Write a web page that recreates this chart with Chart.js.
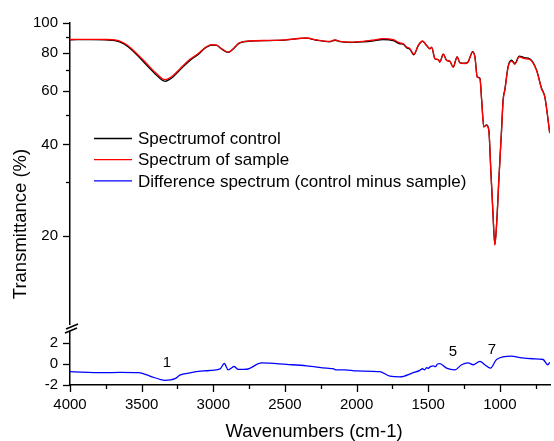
<!DOCTYPE html>
<html>
<head>
<meta charset="utf-8">
<script src="https://cdn.jsdelivr.net/npm/chart.js@4/dist/chart.umd.min.js"></script>
<style>
html,body{margin:0;padding:0;background:#fff;}
#wrap{width:554px;height:441px;position:relative;}
</style>
</head>
<body>
<div id="wrap"><canvas id="c"></canvas></div>
<script>
// ---- DATA ----
const wavenumbers = [4000,3850,3750,3686,3623,3570,3454,3400,3337,3295,3279,3221,3163,3105,3058,3011,2976,2942,2896,2865,2826,2814,2744,2605,2500,2349,2279,2186,2151,2116,2046,1954,1893,1814,1744,1698,1675,1651,1628,1600,1570,1539,1511,1488,1476,1453,1430,1419,1395,1372,1349,1326,1298,1279,1244,1221,1190,1174,1158,1139,1127,1112,1093,1077,1063,1049,1035,1021,1007,988,977,965,942,918,895,865,826,791,744,709,686,652];
const sampleT = [88.3,88.4,88.3,88.1,86.0,82.4,72.7,68.5,65.2,66.5,67.4,71.7,76.0,79.4,83.0,84.9,84.6,82.4,80.3,82.0,85.6,86.3,87.3,87.7,88.0,89.3,88.0,87.1,88.0,87.1,86.6,87.1,87.8,88.9,88.2,86.0,85.6,83.4,82.4,79.0,84.5,87.3,84.5,82.4,83.4,76.4,75.9,74.5,79.0,75.5,74.9,71.7,77.4,74.0,73.6,74.5,80.3,77.4,66.5,65.7,55.8,45.6,46.2,44.5,32.9,24.3,18.7,22.5,30.5,44.5,55.8,60.2,71.7,75.0,73.2,77.4,76.4,75.9,69.9,60.9,57.2,43.5];
const controlT = [88.1,88.2,88.0,87.6,85.4,81.7,71.9,67.7,64.4,65.8,66.7,71.0,75.4,78.9,82.6,84.6,84.4,82.2,80.1,81.8,85.4,86.1,87.2,87.6,87.9,89.2,87.8,86.8,87.8,86.9,86.4,86.8,87.3,88.3,87.6,85.5,85.2,83.0,82.0,78.7,84.2,87.1,84.3,82.2,83.2,76.3,75.8,74.5,79.0,75.5,74.9,71.7,77.4,74.1,73.8,74.7,80.5,77.5,66.6,65.9,56.0,45.7,46.3,44.5,32.9,24.3,18.8,22.6,30.7,44.8,56.2,60.6,72.2,75.5,73.7,77.9,76.9,76.3,70.2,61.1,57.3,43.6];
const diffWavenumbers = [4000,3768,3651,3523,3442,3337,3267,3233,3163,3070,2953,2923,2896,2854,2826,2767,2663,2488,2349,2209,2165,2139,2081,2000,1837,1767,1698,1605,1558,1540,1525,1511,1500,1490,1465,1450,1435,1419,1372,1314,1267,1221,1186,1139,1105,1065,1023,918,860,768,698,666,652];
const diffValues = [-0.73,-0.83,-0.80,-0.83,-1.15,-1.55,-1.40,-1.06,-0.85,-0.66,-0.47,0.05,-0.55,-0.24,-0.52,-0.5,0.1,-0.04,-0.17,-0.4,-0.45,-0.56,-0.55,-0.66,-0.73,-1.16,-1.23,-0.83,-0.6,-0.45,-0.55,-0.35,-0.42,-0.3,-0.17,-0.25,0.0,0.03,-0.4,-0.56,-0.07,0.1,-0.07,0.26,-0.07,-0.4,0.43,0.75,0.6,0.5,0.43,-0.07,0.16];
const xTickLabels = [4000,3500,3000,2500,2000,1500,1000];
const yTopTicks = [20,30,40,50,60,70,80,90,100];
const yTopLabels = [20,40,60,80,100];
const yBottomTicks = [-2,0,2];
const seriesNames = ["Spectrumof control","Spectrum of sample","Difference spectrum (control minus sample)"];
const peakLabels = ["1","5","7"];
const peakWavenumbers = [3323,1328,1056];
const peakLevels = [0.12,1.17,1.36];

const FONT = "'Liberation Sans', Arial, Helvetica, sans-serif";
const toXY = (xs, ys) => xs.map((x, i) => ({x: x, y: ys[i]}));

const decor = {
  id: 'decor',
  afterDraw(chart) {
    const ctx = chart.ctx;
    const sx = chart.scales.x, sy = chart.scales.y, sy2 = chart.scales.y2;
    const ax = chart.chartArea.left, ab = chart.chartArea.bottom;
    ctx.save();
    ctx.strokeStyle = '#000';
    ctx.lineWidth = 1.3;
    // x ticks
    for (let v = 4000; v >= 750; v -= 250) {
      const px = Math.round(sx.getPixelForValue(v)) + 0.5;
      const len = (v % 500 === 0) ? 7 : 4;
      ctx.beginPath(); ctx.moveTo(px, ab); ctx.lineTo(px, ab + len); ctx.stroke();
    }
    // y top ticks
    yTopTicks.forEach(v => {
      const py = Math.round(sy.getPixelForValue(v)) + 0.5;
      const len = yTopLabels.includes(v) ? 7 : 4;
      ctx.beginPath(); ctx.moveTo(ax, py); ctx.lineTo(ax - len, py); ctx.stroke();
    });
    yBottomTicks.forEach(v => {
      const py = Math.round(sy2.getPixelForValue(v)) + 0.5;
      ctx.beginPath(); ctx.moveTo(ax, py); ctx.lineTo(ax - 7, py); ctx.stroke();
    });
    // axis break
    const by = sy.bottom;
    ctx.fillStyle = '#fff';
    ctx.fillRect(ax - 3, by - 3, 6, 6);
    ctx.lineWidth = 1.5;
    ctx.beginPath(); ctx.moveTo(ax - 4, by + 1); ctx.lineTo(ax + 8, by - 4); ctx.stroke();
    ctx.beginPath(); ctx.moveTo(ax - 5, by + 5); ctx.lineTo(ax + 7, by); ctx.stroke();
    // legend
    const ds = [chart.data.datasets[1], chart.data.datasets[0], chart.data.datasets[2]];
    ctx.font = '17px ' + FONT;
    ctx.textBaseline = 'middle';
    ctx.textAlign = 'left';
    ds.forEach((d, i) => {
      const ly = 138.5 + i * 21.2;
      ctx.strokeStyle = d.borderColor;
      ctx.lineWidth = 1.3;
      ctx.beginPath(); ctx.moveTo(94, ly); ctx.lineTo(132, ly); ctx.stroke();
      ctx.fillStyle = '#000';
      ctx.fillText(seriesNames[i], 138, ly + 1);
    });
    // peak labels
    ctx.font = '15px ' + FONT;
    ctx.textAlign = 'center';
    peakLabels.forEach((t, i) => {
      ctx.fillText(t, sx.getPixelForValue(peakWavenumbers[i]), sy2.getPixelForValue(peakLevels[i]));
    });
    // axis titles
    ctx.font = '18.5px ' + FONT;
    ctx.fillText('Wavenumbers (cm-1)', 314, 432);
    ctx.translate(21, 224);
    ctx.rotate(-Math.PI / 2);
    ctx.fillText('Transmittance (%)', 0, 0);
    ctx.restore();
  }
};

new Chart(document.getElementById('c'), {
  type: 'line',
  data: {
    datasets: [
      {label: seriesNames[1], data: toXY(wavenumbers, sampleT), borderColor: '#ff0000', yAxisID: 'y', order: 1},
      {label: seriesNames[0], data: toXY(wavenumbers, controlT), borderColor: '#000000', yAxisID: 'y', order: 2},
      {label: seriesNames[2], data: toXY(diffWavenumbers, diffValues), borderColor: '#0000ff', yAxisID: 'y2', order: 0}
    ]
  },
  options: {
    responsive: true,
    maintainAspectRatio: false,
    animation: false,
    events: [],
    layout: {padding: {top: 23, right: 4, left: 0, bottom: 0}},
    elements: {
      point: {radius: 0},
      line: {borderWidth: 1.3, tension: 0.3, cubicInterpolationMode: 'monotone', fill: false}
    },
    plugins: {legend: {display: false}, tooltip: {enabled: false}},
    scales: {
      x: {
        type: 'linear', reverse: true, min: 650, max: 4000, position: 'bottom',
        afterBuildTicks: s => { s.ticks = xTickLabels.map(v => ({value: v})); },
        afterFit: s => { s.height = 56; },
        grid: {display: true, drawOnChartArea: false, drawTicks: true, tickLength: 8, tickColor: 'rgba(0,0,0,0)'},
        border: {display: true, color: '#000', width: 1.5},
        ticks: {color: '#000', font: {family: FONT, size: 15}, padding: 3, maxRotation: 0, autoSkip: false,
          callback: v => String(v)}
      },
      y: {
        type: 'logarithmic', min: 10, max: 100, position: 'left', stack: 'v', stackWeight: 305, weight: 2,
        afterBuildTicks: s => { s.ticks = yTopTicks.map(v => ({value: v})); },
        afterFit: s => { s.width = 70; },
        grid: {display: true, drawOnChartArea: false, drawTicks: true, tickLength: 8, tickColor: 'rgba(0,0,0,0)'},
        border: {display: true, color: '#000', width: 1.5},
        ticks: {color: '#000', font: {family: FONT, size: 15}, padding: 4, autoSkip: false,
          callback: v => yTopLabels.includes(v) ? String(v) : ''}
      },
      y2: {
        type: 'linear', min: -2, max: 3.43, position: 'left', stack: 'v', stackWeight: 57, weight: 1,
        afterBuildTicks: s => { s.ticks = yBottomTicks.map(v => ({value: v})); },
        afterFit: s => { s.width = 70; },
        grid: {display: true, drawOnChartArea: false, drawTicks: true, tickLength: 8, tickColor: 'rgba(0,0,0,0)'},
        border: {display: true, color: '#000', width: 1.5},
        ticks: {color: '#000', font: {family: FONT, size: 15}, padding: 4, autoSkip: false,
          callback: v => String(v)}
      }
    }
  },
  plugins: [decor]
});
</script>
</body>
</html>
